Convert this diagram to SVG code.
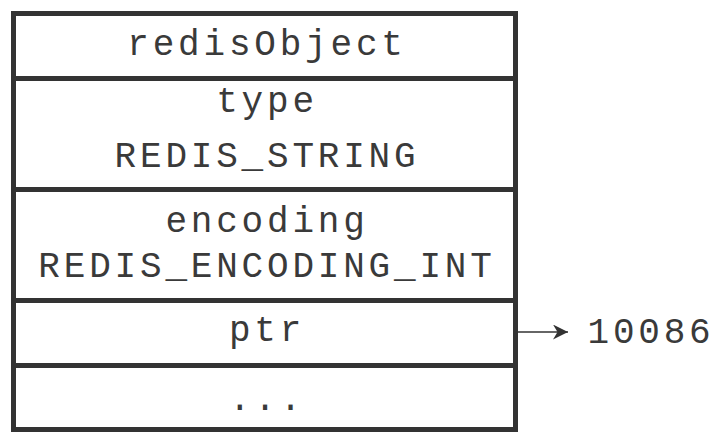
<svg xmlns="http://www.w3.org/2000/svg" width="716" height="432" viewBox="0 0 716 432">
<defs>
<style>
.t{font-family:"Liberation Mono","Courier New",monospace;font-size:36px;fill:#3a3a3a;text-anchor:middle;letter-spacing:3.8px}
.b{fill:#fff;stroke:#333;stroke-width:5}
.c{stroke:#333;stroke-width:1.6;fill:none}
</style>
<marker id="ah" viewBox="0 0 10 10" refX="10" refY="5" markerWidth="26" markerHeight="15" markerUnits="userSpaceOnUse" orient="auto">
<path d="M0,0 L10,5 L0,10 L3,5 Z" fill="#333"/>
</marker>
</defs>
<rect x="0" y="0" width="716" height="432" fill="#fff"/>
<g id="redisObject">
<rect class="b" x="13.5" y="13.5" width="502" height="65"/>
<text class="t" x="267" y="55">redisObject</text>
</g>
<g id="type">
<rect class="b" x="13.5" y="78.5" width="502" height="111"/>
<text class="t" x="267" y="112">type</text>
<text class="t" x="267" y="167">REDIS_STRING</text>
</g>
<g id="encoding">
<rect class="b" x="13.5" y="189.5" width="502" height="111"/>
<text class="t" x="267" y="232">encoding</text>
<text class="t" x="267" y="277">REDIS_ENCODING_INT</text>
</g>
<g id="ptr">
<rect class="b" x="13.5" y="300.5" width="502" height="65"/>
<text class="t" x="267" y="341">ptr</text>
</g>
<g id="rest">
<rect class="b" x="13.5" y="365.5" width="502" height="64"/>
<text class="t" x="267" y="410">...</text>
</g>
<g id="value">
<text class="t" x="651" y="343">10086</text>
</g>
<g id="connectors">
<line class="c" x1="518" y1="332" x2="568" y2="332" marker-end="url(#ah)"/>
</g>
</svg>
